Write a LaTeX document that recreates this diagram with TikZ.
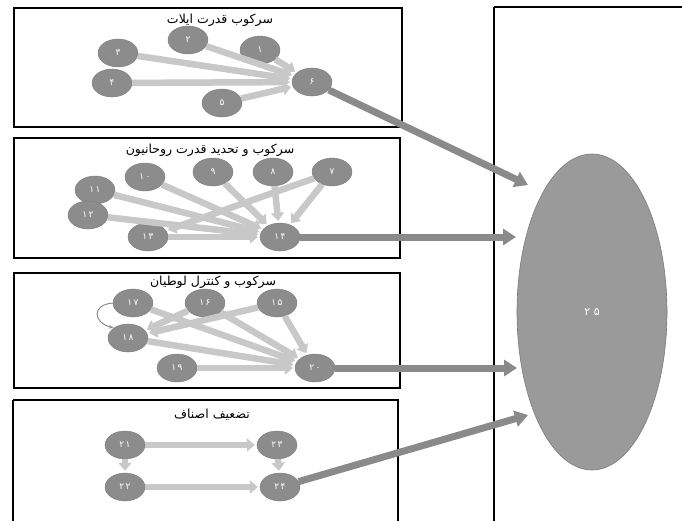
\documentclass[tikz,border=0pt]{standalone}
\usepackage{fontspec}
\TeXXeTstate=1
\newfontfamily\arabicfont[Script=Arabic]{DejaVu Sans}
\usetikzlibrary{arrows.meta,shapes.geometric}

\definecolor{nodegray}{HTML}{8C8C8C}
\definecolor{nodeedge}{HTML}{7C7C7C}
\definecolor{flowgray}{HTML}{C8C8C8}
\definecolor{bigarrow}{HTML}{8A8A8A}
\definecolor{hubgray}{HTML}{9A9A9A}
\definecolor{hubedge}{HTML}{7A7A7A}

\tikzset{
  actor/.style={ellipse, fill=nodegray, draw=nodeedge, line width=0.4pt,
    minimum width=40pt, minimum height=28pt, inner sep=0pt, text=white,
    font=\arabicfont\fontsize{9}{10}\selectfont},
  hub/.style={ellipse, fill=hubgray, draw=hubedge, line width=0.6pt,
    minimum width=150pt, minimum height=316pt, inner sep=0pt, text=white,
    font=\arabicfont\fontsize{11}{12}\selectfont},
  paneltitle/.style={font=\arabicfont\fontsize{12.5}{14}\selectfont, inner sep=1pt},
  panelframe/.style={draw=black, line width=1.3pt},
  flow/.style={draw=flowgray, line width=6.5pt,
    -{Triangle[width=13pt,length=8pt]}, shorten >=2pt},
  feed/.style={draw=bigarrow, line width=7pt,
    -{Triangle[width=16pt,length=13pt]}},
  loopback/.style={draw=nodegray, line width=1pt, -{Stealth[length=5pt]}}
}

\begin{document}
\begin{tikzpicture}[x=1pt,y=-1pt]
\useasboundingbox (0,0) rectangle (682,520);
\fill[white] (0,0) rectangle (682,520);

% frames
\draw[panelframe] (494,7) -- (494,530);
\draw[panelframe] (494,7) -- (690,7);
\draw[panelframe] (14,8) rectangle (402,127);
\draw[panelframe] (14,138) rectangle (400,258);
\draw[panelframe] (14,273) rectangle (400,388);
\draw[panelframe] (13,400) -- (13,530);
\draw[panelframe] (13,400) -- (398,400) -- (398,530);

% central outcome
\node[hub] (n25) at (592,312) {۲\,\,۵};
\coordinate (e1) at (528,185);
\coordinate (e2) at (516,237);
\coordinate (e3) at (517,368);
\coordinate (e4) at (528,415);

% panel 1
\node[paneltitle] (t1) at (220,20) {\beginR سرکوب قدرت ایلات\endR};
\node[actor] (n1) at (260,50) {۱};
\node[actor] (n2) at (188,40) {۲};
\node[actor] (n3) at (118,53) {۳};
\node[actor] (n4) at (112,83) {۴};
\node[actor] (n5) at (222,103) {۵};
\node[actor] (n6) at (312,82) {۶};
\draw[flow] (n1) -- (n6);
\draw[flow] (n2) -- (n6);
\draw[flow] (n3) -- (n6);
\draw[flow] (n4) -- (n6);
\draw[flow] (n5) -- (n6);
\draw[feed] (n6) -- (e1);

% panel 2
\node[paneltitle] (t2) at (210,150) {\beginR سرکوب و تحدید قدرت روحانیون\endR};
\node[actor] (n7) at (332,172) {۷};
\node[actor] (n8) at (273,172) {۸};
\node[actor] (n9) at (213,172) {۹};
\node[actor] (n10) at (145,177) {۱\,۰};
\node[actor] (n11) at (95,190) {۱\,۱};
\node[actor] (n12) at (88,215) {۱\,۲};
\node[actor] (n13) at (148,237) {۱\,۳};
\node[actor] (n14) at (280,237) {۱\,۴};
\draw[flow] (n7) -- (n13);
\draw[flow] (n7) -- (n14);
\draw[flow] (n8) -- (n14);
\draw[flow] (n9) -- (n14);
\draw[flow] (n10) -- (n14);
\draw[flow] (n11) -- (n14);
\draw[flow] (n12) -- (n14);
\draw[flow] (n13) -- (n14);
\draw[feed] (n14.east) -- (e2);

% panel 3
\node[paneltitle] (t3) at (213,282) {\beginR سرکوب و کنترل لوطیان\endR};
\node[actor] (n15) at (277,303) {۱\,۵};
\node[actor] (n16) at (205,303) {۱\,۶};
\node[actor] (n17) at (133,303) {۱\,۷};
\node[actor] (n18) at (128,338) {۱\,۸};
\node[actor] (n19) at (177,368) {۱\,۹};
\node[actor] (n20) at (315,368) {۲\,۰};
\draw[flow] (n16) -- (n18);
\draw[flow] (n15) -- (n18);
\draw[flow] (n17) -- (n20);
\draw[flow] (n16) -- (n20);
\draw[flow] (n15) -- (n20);
\draw[flow] (n18) -- (n20);
\draw[flow] (n19) -- (n20);
\draw[loopback] (n17.west) to[out=185,in=165,looseness=2.2] (n18.north west);
\draw[feed] (n20.east) -- (e3);

% panel 4
\node[paneltitle] (t4) at (212,415) {\beginR تضعیف اصناف\endR};
\node[actor] (n21) at (125,445) {۲\,۱};
\node[actor] (n23) at (277,445) {۲\,۳};
\node[actor] (n22) at (125,487) {۲\,۲};
\node[actor] (n24) at (280,487) {۲\,۴};
\draw[flow] (n21) -- (n23);
\draw[flow] (n21) -- (n22);
\draw[flow] (n23) -- (n24);
\draw[flow] (n22) -- (n24);
\draw[feed] (n24) -- (e4);
\end{tikzpicture}
\end{document}
